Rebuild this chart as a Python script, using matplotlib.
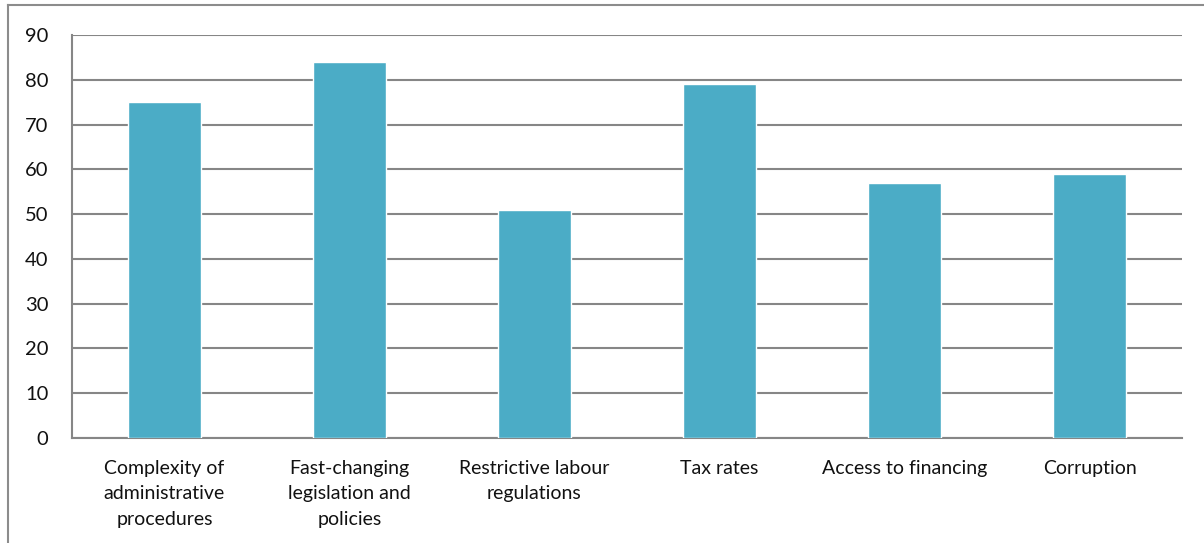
import matplotlib
matplotlib.use("Agg")
import matplotlib.pyplot as plt
import matplotlib.patheffects as pe
from matplotlib.lines import Line2D

categories = [
    "Complexity of\nadministrative\nprocedures",
    "Fast-changing\nlegislation and\npolicies",
    "Restrictive labour\nregulations",
    "Tax rates",
    "Access to financing",
    "Corruption",
]
values = [75, 84, 51, 79, 57, 59]
y_ticks = [0, 10, 20, 30, 40, 50, 60, 70, 80, 90]

plt.rcParams["font.family"] = ["Lato", "DejaVu Sans"]

fig = plt.figure(figsize=(12.04, 5.43), dpi=100)
ax = fig.add_axes([72 / 1204, (543 - 438) / 543, (1182 - 72) / 1204, (438 - 35) / 543])

x = list(range(len(categories)))
bars = ax.bar(x, values, width=0.39, color="#4BACC6", edgecolor="white",
              linewidth=1.0, zorder=3)
for b in bars:
    b.set_path_effects([
        pe.SimplePatchShadow(offset=(0.8, -0.8), shadow_rgbFace="#888888", alpha=0.35),
        pe.Normal(),
    ])

ax.set_xlim(-0.5, len(categories) - 0.5)
ax.set_ylim(0, 90)
ax.set_yticks(y_ticks)
ax.set_xticks(x)
ax.set_xticklabels(categories, fontsize=14, linespacing=1.62, color="#111111")
ax.tick_params(axis="y", length=0, pad=17, labelsize=14.5, labelcolor="#111111")
ax.tick_params(axis="x", length=0, pad=15.5)

ax.grid(axis="y", color="#868686", linewidth=1.5, zorder=0)
ax.set_axisbelow(True)
for side in ["top", "right"]:
    ax.spines[side].set_visible(False)
ax.spines["left"].set_color("#868686")
ax.spines["left"].set_linewidth(1.5)
ax.spines["bottom"].set_color("#868686")
ax.spines["bottom"].set_linewidth(1.5)

# outer chart frame
fig.add_artist(Line2D([8 / 1204, 1.0], [1 - 5 / 543, 1 - 5 / 543],
                      transform=fig.transFigure, color="#8c8c8c", linewidth=1.5))
fig.add_artist(Line2D([8 / 1204, 8 / 1204], [0, 1 - 5 / 543],
                      transform=fig.transFigure, color="#8c8c8c", linewidth=1.5))

fig.savefig("out.png", dpi=100)
